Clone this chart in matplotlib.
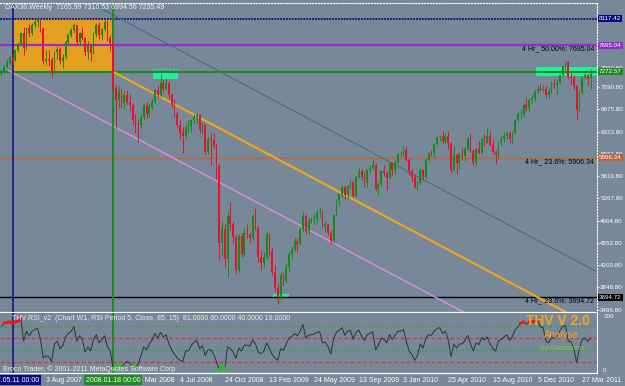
import matplotlib.pyplot as plt
import matplotlib.transforms as mtransforms
from matplotlib.patches import Rectangle
import numpy as np

plt.rcParams['font.family'] = ['Liberation Sans', 'DejaVu Sans']

# weekly DAX30 bars, bar 0 = week of 13 Apr 2007, last bar = week of 17 Apr 2011
opens = [
    7230, 7290, 7350, 7410, 7500, 7460, 7620, 7710, 7880, 7650,
    7970, 7880, 8010, 8060, 8100, 7950, 7450, 7480, 7460, 7270,
    7580, 7640, 7440, 7500, 7750, 7860, 7930, 8010, 7750, 7880,
    7810, 7590, 7680, 7570, 7870, 8010, 7850, 7950, 8067, 7810,
    7730, 7020, 6820, 6970, 6770, 6900, 6800, 6750, 6510, 6440,
    6430, 6560, 6750, 6600, 6720, 6800, 6990, 6900, 7100, 7000,
    7100, 6900, 6750, 6600, 6420, 6300, 6250, 6400, 6400, 6500,
    6550, 6580, 6350, 6420, 6000, 6200, 6190, 6100, 5800, 4550,
    4780, 4300, 4990, 4850, 4650, 4130, 4670, 4380, 4720, 4700,
    4630, 4980, 4800, 4330, 4240, 4340, 4700, 4430, 4090, 3840,
    3700, 4040, 3950, 4180, 4380, 4460, 4590, 4540, 4770, 4990,
    4740, 4900, 4920, 4940, 5050, 5070, 4830, 4850, 4720, 4580,
    5000, 5230, 5330, 5450, 5310, 5460, 5520, 5300, 5600, 5700,
    5600, 5500, 5710, 5740, 5800, 5410, 5490, 5690, 5660, 5590,
    5820, 5710, 5830, 5960, 5960, 6030, 5880, 5690, 5610, 5440,
    5500, 5720, 5600, 5880, 5990, 5980, 6120, 6230, 6250, 6180,
    6260, 6140, 5720, 5950, 5830, 5950, 5940, 6050, 6220, 6020,
    5830, 6040, 5990, 6200, 6150, 6250, 6110, 6000, 5950, 6160,
    6200, 6250, 6300, 6210, 6300, 6500, 6600, 6600, 6750, 6700,
    6820, 6850, 6950, 7000, 6990, 7000, 6910, 6950, 7080, 7060,
    7100, 7220, 7370, 7430, 7190, 7180, 7040, 6660, 6950, 7180, 7220, 7165.99]
highs = [
    7320, 7380, 7470, 7530, 7560, 7640, 7740, 7910, 7990, 7990,
    8030, 8040, 8090, 8110, 8117.42, 7980, 7620, 7620, 7500, 7600,
    7680, 7660, 7560, 7780, 7890, 7960, 8040, 8020, 7910, 7990,
    7830, 7760, 7720, 7900, 8040, 8060, 7970, 8100, 8090, 7850,
    7750, 7060, 7050, 7000, 6960, 6990, 6920, 6780, 6600, 6520,
    6600, 6780, 6790, 6760, 6850, 7020, 7060, 7230, 7140, 7160,
    7120, 6940, 6840, 6650, 6500, 6400, 6450, 6510, 6530, 6600,
    6620, 6600, 6470, 6450, 6250, 6300, 6300, 6150, 5810, 4900,
    4850, 5070, 5200, 4900, 4700, 4700, 4720, 4800, 4850, 4720,
    5020, 5110, 4830, 4450, 4420, 4750, 4720, 4470, 4200, 3920,
    4100, 4100, 4230, 4420, 4500, 4650, 4630, 4800, 5050, 5010,
    4950, 4960, 5030, 5080, 5120, 5080, 4900, 4880, 4760, 5020,
    5250, 5350, 5470, 5460, 5480, 5560, 5540, 5620, 5760, 5730,
    5680, 5730, 5800, 5890, 5820, 5530, 5720, 5790, 5700, 5850,
    5830, 5870, 5980, 6010, 6100, 6090, 5900, 5730, 5650, 5540,
    5740, 5730, 5900, 6000, 6030, 6140, 6240, 6270, 6340, 6290,
    6340, 6160, 6100, 5980, 6000, 6070, 6080, 6240, 6300, 6050,
    6070, 6180, 6230, 6280, 6380, 6330, 6210, 6030, 6180, 6260,
    6320, 6340, 6330, 6330, 6520, 6640, 6660, 6780, 6850, 6850,
    6900, 6980, 7060, 7080, 7060, 7050, 7020, 7120, 7160, 7150,
    7240, 7380, 7441, 7440, 7260, 7220, 7060, 6970, 7200, 7260, 7240, 7316.53]
lows = [
    7200, 7250, 7330, 7390, 7400, 7440, 7580, 7690, 7540, 7620,
    7830, 7850, 7960, 7990, 7900, 7400, 7380, 7360, 7185, 7260,
    7480, 7400, 7330, 7470, 7720, 7820, 7880, 7700, 7700, 7770,
    7530, 7480, 7450, 7550, 7830, 7800, 7780, 7920, 7760, 7600,
    6950, 6380, 6700, 6700, 6680, 6760, 6650, 6420, 6300, 6160,
    6380, 6520, 6540, 6550, 6680, 6780, 6860, 6880, 6960, 6980,
    6850, 6700, 6560, 6380, 6200, 5990, 6200, 6300, 6320, 6440,
    6460, 6300, 6280, 5970, 5960, 5800, 6050, 5570, 4290, 4350,
    4180, 4014, 4740, 4560, 4070, 4100, 4340, 4350, 4630, 4560,
    4600, 4760, 4250, 4120, 4180, 4300, 4360, 4050, 3800, 3588,
    3650, 3880, 3920, 4100, 4300, 4430, 4410, 4520, 4740, 4700,
    4700, 4880, 4860, 4880, 4960, 4790, 4730, 4680, 4540, 4560,
    4980, 5160, 5280, 5250, 5240, 5420, 5280, 5290, 5580, 5560,
    5450, 5450, 5660, 5720, 5380, 5320, 5460, 5620, 5400, 5570,
    5640, 5650, 5820, 5930, 5950, 5850, 5640, 5540, 5420, 5400,
    5480, 5550, 5580, 5850, 5930, 5920, 6100, 6170, 6150, 6120,
    6050, 5670, 5700, 5650, 5730, 5880, 5850, 6030, 6000, 5800,
    5780, 5960, 5970, 6100, 6140, 6090, 5970, 5810, 5900, 6100,
    6160, 6200, 6150, 6150, 6280, 6480, 6540, 6560, 6650, 6640,
    6780, 6810, 6930, 6960, 6950, 6860, 6850, 6930, 7010, 6920,
    7080, 7200, 7300, 7150, 7080, 6980, 6500, 6650, 6920, 7150, 7070, 6994.56]
closes = [
    7290, 7350, 7410, 7500, 7460, 7620, 7710, 7880, 7650, 7970,
    7880, 8010, 8060, 8100, 7950, 7450, 7480, 7460, 7270, 7580,
    7640, 7440, 7500, 7750, 7860, 7930, 8010, 7750, 7880, 7810,
    7590, 7680, 7570, 7870, 8010, 7850, 7950, 8067, 7810, 7730,
    7020, 6820, 6970, 6770, 6900, 6800, 6750, 6510, 6440, 6430,
    6560, 6750, 6600, 6720, 6800, 6990, 6900, 7100, 7000, 7100,
    6900, 6750, 6600, 6420, 6300, 6250, 6400, 6400, 6500, 6550,
    6580, 6350, 6420, 6000, 6200, 6190, 6100, 5800, 4550, 4780,
    4300, 4990, 4850, 4650, 4130, 4670, 4380, 4720, 4700, 4630,
    4980, 4800, 4330, 4240, 4340, 4700, 4430, 4090, 3840, 3700,
    4040, 3950, 4180, 4380, 4460, 4590, 4540, 4770, 4990, 4740,
    4900, 4920, 4940, 5050, 5070, 4830, 4850, 4720, 4580, 5000,
    5230, 5330, 5450, 5310, 5460, 5520, 5300, 5600, 5700, 5600,
    5500, 5710, 5740, 5800, 5410, 5490, 5690, 5660, 5590, 5820,
    5710, 5830, 5960, 5960, 6030, 5880, 5690, 5610, 5440, 5500,
    5720, 5600, 5880, 5990, 5980, 6120, 6230, 6250, 6180, 6260,
    6140, 5720, 5950, 5830, 5950, 5940, 6050, 6220, 6020, 5830,
    6040, 5990, 6200, 6150, 6250, 6110, 6000, 5950, 6160, 6200,
    6250, 6300, 6210, 6300, 6500, 6600, 6600, 6750, 6700, 6820,
    6850, 6950, 7000, 6990, 7000, 6910, 6950, 7080, 7060, 7100,
    7220, 7370, 7430, 7190, 7180, 7040, 6660, 6950, 7180, 7220, 7150, 7235.49]

# THV RSI_v2 values
rsi = [
    80, 86, 87, 88, 86, 88, 89, 93, 55, 72,
    64, 72, 75, 77, 58, 26, 30, 28, 20, 50,
    55, 42, 47, 62, 68, 72, 80, 55, 64, 58,
    36, 45, 38, 58, 66, 52, 58, 64, 45, 38,
    8, 6, 14, 10, 16, 20, 17, 12, 10, 15,
    30, 45, 40, 50, 57, 68, 60, 70, 62, 66,
    50, 40, 32, 26, 22, 20, 38, 38, 48, 53,
    56, 42, 47, 30, 40, 40, 33, 20, 5, 12,
    8, 45, 42, 36, 25, 43, 38, 48, 48, 46,
    57, 50, 36, 33, 38, 52, 42, 32, 26, 22,
    42, 39, 50, 60, 63, 68, 64, 72, 84, 60,
    65, 66, 67, 70, 71, 52, 53, 45, 33, 60,
    70, 74, 78, 65, 72, 74, 58, 70, 74, 64,
    56, 66, 68, 71, 40, 48, 60, 58, 52, 66,
    58, 65, 72, 72, 75, 55, 38, 32, 22, 30,
    50, 43, 60, 66, 65, 72, 77, 78, 68, 72,
    58, 28, 50, 43, 50, 50, 56, 65, 50, 38,
    52, 49, 61, 57, 62, 50, 42, 38, 55, 58,
    62, 66, 56, 63, 75, 80, 86, 88, 84, 87,
    88, 89, 90, 80, 78, 55, 52, 62, 60, 64,
    72, 80, 82, 55, 54, 42, 18, 42, 58, 60, 55, 60]
rsi_levels = [81, 60, 40, 19]

# horizontal level lines and their price boxes
level_prices = [8117.42, 7695.04, 7272.57, 5906.34, 3694.72]
level_colors = ['#0a0a80', '#9a2ad0', '#1f8a1f', '#c0643c', '#000000']
fib_prices = [7695.04, 5906.34, 3694.72]
fib_texts = ['4 Hr_ 50.00%: 7695.04', '4 Hr_ 23.6%: 5906.34', '4 Hr_ 23.6%: 3694.72']

price_ticks = [7330.80, 7030.80, 6675.80, 6323.80, 5971.80, 5619.80,
               5267.80, 4904.80, 4552.80, 4200.80, 3848.80, 3496.80]

time_bars = [16, 48, 64, 80, 96, 112, 128, 144, 160, 176, 192, 208]
time_labels = ['3 Aug 2007', '14 Mar 2008', '4 Jul 2008', '24 Oct 2008', '13 Feb 2009',
               '24 May 2009', '13 Sep 2009', '3 Jan 2010', '25 Apr 2010', '15 Aug 2010',
               '5 Dec 2010', '27 Mar 2011']

vline_bars = [4, 40]
vline_labels = ['2007.05.11 00:00', '2008.01.18 00:00']

# trendline anchors (bar, price)
orange_line = [(40, 7272.57), (202.6, 3446)]
pink_line = [(2.5, 7295), (166, 3446)]
channel_line = [(30, 8410), (114.1, 6431)]

# highlight zones: (bar from, bar to, price low, price high)
zones = [(54.3, 63.3, 7157, 7272.57), (191.5, 214, 7210, 7343), (97.3, 103, 3690, 3740)]

BG = '#778899'
BULL = '#138c13'
BEAR = '#e8102a'
W, H = 625, 386


def box(l, t, r, b):
    return [l / W, 1 - b / H, (r - l) / W, (b - t) / H]


fig = plt.figure(figsize=(W / 100, H / 100), dpi=100, facecolor=BG)
ax = fig.add_axes(box(0, 3, 597, 313), facecolor=BG)
rx = fig.add_axes(box(0, 313, 597, 373), facecolor=BG)

xlim = (-0.48, 213.3)
ax.set_xlim(*xlim)
rx.set_xlim(*xlim)
ax.set_ylim(3444, 8364)
rx.set_ylim(0, 103.4)

# objects behind the candles
ax.add_patch(Rectangle((vline_bars[0], level_prices[2]), vline_bars[1] - vline_bars[0],
                       level_prices[0] - level_prices[2], facecolor='#e3a020',
                       edgecolor='none', zorder=1))
for x0, x1, p0, p1 in zones:
    ax.add_patch(Rectangle((x0, p0), x1 - x0, p1 - p0, facecolor='#1ef0a0',
                           edgecolor='none', zorder=1.5))
ax.hlines(7311, zones[0][0], zones[0][1], colors='#1ef0a0', lw=0.8,
          linestyles=(0, (2, 1.5)), zorder=1.5)

ax.axhline(level_prices[0], color=level_colors[0], lw=1.3, ls=(0, (1, 0.6)), zorder=2)
ax.axhline(level_prices[1], color=level_colors[1], lw=1.6, zorder=2)
ax.axhline(level_prices[2], color=level_colors[2], lw=1.5, zorder=2)
ax.axhline(level_prices[3], color=level_colors[3], lw=1.0, zorder=2)
ax.axhline(level_prices[4], color=level_colors[4], lw=1.0, zorder=2)


def ray(pts, x_end):
    (xa, ya), (xb, yb) = pts
    k = (yb - ya) / (xb - xa)
    return [xa, x_end], [ya, ya + k * (x_end - xa)]


ax.plot(*ray(orange_line, 260), color='#f5a51c', lw=1.5, zorder=2)
ax.plot(*ray(pink_line, 260), color='#e08ee0', lw=1.0, zorder=2)
ax.axline(channel_line[0], channel_line[1], color='#3f6e78', lw=0.7, zorder=2)

for b, col in zip(vline_bars, ['#0a0a80', '#1f8a1f']):
    ax.axvline(b, color=col, lw=1.4 if b == 40 else 1.1, zorder=2.5)
    rx.axvline(b, color=col, lw=1.4 if b == 40 else 1.1, zorder=2.5)

# candles
x = np.arange(len(closes))
o, h, l, c = map(np.array, (opens, highs, lows, closes))
cols = np.where(c >= o, BULL, BEAR)
ax.vlines(x, l, h, colors=cols, lw=0.7, zorder=3)
ax.bar(x, np.maximum(np.abs(c - o), 10), bottom=np.minimum(o, c), width=0.62,
       color=cols, linewidth=0, zorder=3)

# price scale on the right
ax.yaxis.tick_right()
ax.set_yticks(price_ticks)
ax.set_yticklabels([f'{p:.2f}' for p in price_ticks])
ax.tick_params(axis='y', colors='white', length=1.5, width=0.6, pad=0.8, labelsize=4.5)
ax.tick_params(axis='x', bottom=False, labelbottom=False)
rx.tick_params(left=False, labelleft=False, bottom=False, labelbottom=False)

ytr = ax.get_yaxis_transform()
for p, col in zip(level_prices, level_colors):
    ax.text(1.003, p, f'{p:.2f}', transform=ytr, ha='left', va='center', fontsize=4.5,
            color='white', zorder=5, clip_on=False,
            bbox=dict(facecolor=col, edgecolor='none', pad=0.8))
for p, t in zip(fib_prices, fib_texts):
    ax.text(0.995, p, t, transform=ytr, ha='right', va='top', fontsize=5,
            color='black', zorder=4)

ax.text(5 / 597, 0.986, 'DAX30,Weekly  7165.99 7316.53 6994.56 7235.49',
        transform=ax.transAxes, ha='left', va='center', fontsize=5, color='#f2f2f2')

# borders
ax.spines['left'].set_visible(False)
rx.spines['left'].set_visible(False)
ax.spines['top'].set(color='white', lw=0.8, ls=':')
ax.spines['right'].set(color='white', lw=0.8, ls=':')
ax.spines['bottom'].set(color='white', lw=1.6)
rx.spines['top'].set_visible(False)
rx.spines['right'].set(color='white', lw=0.8)
rx.spines['bottom'].set(color='white', lw=0.9)

# RSI panel
for lv, col, ls in zip(rsi_levels, ['#2fa52f', '#ee2a2a', '#2fa52f', '#ee2a2a'],
                       [(0, (1.2, 1.5)), (0, (3, 2)), (0, (1.2, 1.5)), (0, (3, 2))]):
    rx.axhline(lv, color=col, lw=0.9, ls=ls, zorder=1)
r = np.array(rsi, dtype=float)
rx.plot(x, r, color='#2b3436', lw=0.7, zorder=3)
rx.plot(x, np.where(r > 85, r, np.nan), color='#f01818', lw=2.2, zorder=4)
rx.plot(x, np.where(r < 15, r, np.nan), color='#18c818', lw=2.2, zorder=4)

rtr = rx.get_yaxis_transform()
rx.text(1.01, 97, '100', transform=rtr, ha='left', va='center', fontsize=4.5, color='white')
rx.text(1.01, 0, '0', transform=rtr, ha='left', va='bottom', fontsize=4.5, color='white')

rx.text(12 / 597, 0.9, 'THV RSI_v2  (Chart W1, RSI Period 5, Close, 85, 15)  '
        '81.0000 60.0000 40.0000 19.0000', transform=rx.transAxes, ha='left',
        va='center', fontsize=5, color='#ececec', zorder=5)
rx.text(3 / 597, 0.07, 'Broco Trader, \u00a9 2001-2011 MetaQuotes Software Corp.',
        transform=rx.transAxes, ha='left', va='center', fontsize=5, color='#f0f0f0', zorder=5)
rx.text(558 / 597, 0.86, 'THV V 2.0', transform=rx.transAxes, ha='center', va='center',
        fontsize=10, fontweight='bold', color='#f5a51c', zorder=5)
rx.text(561 / 597, 0.63, 'Analyse', transform=rx.transAxes, ha='center', va='center',
        fontsize=7, color='#f5a51c', zorder=5)
rx.text(562 / 597, 0.40, 'By Cobraforex', transform=rx.transAxes, ha='center', va='center',
        fontsize=5, color='#8fc040', zorder=5)

# time axis
ttr = mtransforms.blended_transform_factory(rx.transData, rx.transAxes)
for b, t in zip(time_bars, time_labels):
    rx.text(b, -0.12, t, transform=ttr, ha='left', va='center', fontsize=5,
            color='white', clip_on=False, zorder=5)
for b, t, col in zip(vline_bars, vline_labels, ['#0a0a80', '#1f8a1f']):
    rx.text(b, -0.12, t, transform=ttr, ha='center', va='center', fontsize=5,
            color='white', clip_on=False, zorder=6,
            bbox=dict(facecolor=col, edgecolor='none', pad=1.0))

fig.savefig('out.png', dpi=100, facecolor=BG)
